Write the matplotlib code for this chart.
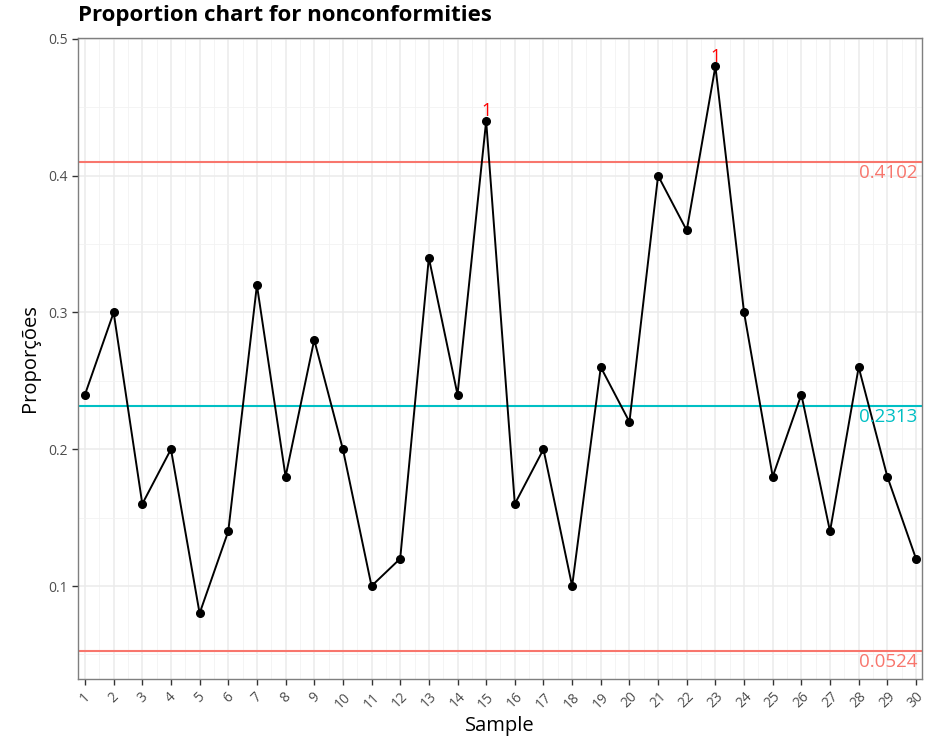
import numpy as np
import matplotlib.pyplot as plt

plt.rcParams['font.family'] = ['Open Sans', 'DejaVu Sans']

samples = list(range(1, 31))
props = [0.24, 0.30, 0.16, 0.20, 0.08, 0.14, 0.32, 0.18, 0.28, 0.20,
         0.10, 0.12, 0.34, 0.24, 0.44, 0.16, 0.20, 0.10, 0.26, 0.22,
         0.40, 0.36, 0.48, 0.30, 0.18, 0.24, 0.14, 0.26, 0.18, 0.12]
center = 0.2313
ucl = 0.4102
lcl = 0.0524
out_idx = [15, 23]

fig = plt.figure(figsize=(9.29, 7.45), dpi=100)
ax = fig.add_axes([78/929, 1-679/745, (922-78)/929, (679-38)/745])

ax.set_xlim(0.756, 30.21)
ax.set_ylim(0.032, 0.5007)

ax.set_xticks(samples)
ax.set_xticks(np.arange(1.5, 30, 1), minor=True)
ax.set_yticks([0.1, 0.2, 0.3, 0.4, 0.5])
ax.set_yticks([0.05, 0.15, 0.25, 0.35, 0.45], minor=True)
ax.grid(True, which='major', color='#ebebeb', linewidth=1.1)
ax.grid(True, which='minor', color='#f2f2f2', linewidth=0.6)
ax.set_axisbelow(True)

ax.axhline(ucl, color='#F8766D', linewidth=1.5)
ax.axhline(lcl, color='#F8766D', linewidth=1.5)
ax.axhline(center, color='#00BFC4', linewidth=1.5)

ax.plot(samples, props, color='black', linewidth=1.4, marker='o', markersize=5.5)

for i in out_idx:
    ax.text(i, props[i-1] + 0.0005, '1', color='red', fontsize=13, ha='center', va='bottom')

for val, col in [(ucl, '#F8766D'), (center, '#00BFC4'), (lcl, '#F8766D')]:
    ax.text(30.05, val - 0.0015, f'{val:.4f}', color=col, fontsize=13.5, ha='right', va='top')

ax.set_xticklabels([str(s) for s in samples], rotation=45, ha='center', fontsize=10, color='#4d4d4d')
ax.tick_params(axis='y', labelsize=10, labelcolor='#4d4d4d')
ax.tick_params(which='major', length=4, color='#333333', width=1)
ax.tick_params(which='minor', length=0)

for s in ax.spines.values():
    s.set_color('#7f7f7f')
    s.set_linewidth(1)

ax.set_xlabel('Sample', fontsize=14.5, labelpad=3)
ax.set_ylabel('Proporções', fontsize=14.5, labelpad=6)
fig.text(78/929, 1-15/745, 'Proportion chart for nonconformities', fontsize=16,
         fontweight='bold', ha='left', va='center')

fig.savefig('out.png', dpi=100)
